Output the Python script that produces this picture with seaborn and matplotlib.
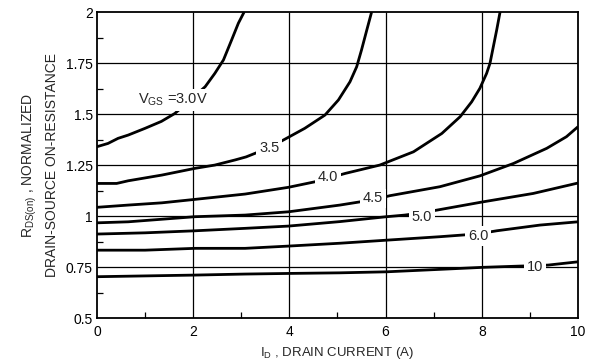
import numpy as np
import pandas as pd
import matplotlib
matplotlib.use("Agg")
import matplotlib.pyplot as plt
import seaborn as sns
from matplotlib.ticker import FixedLocator, FixedFormatter

sns.set_theme(style="white")
plt.rcParams['font.family'] = ['Liberation Sans', 'DejaVu Sans']
plt.rcParams['mathtext.default'] = 'regular'

# Data
vgs_30_x = [0.0, 0.23, 0.44, 0.65, 1.0, 1.34, 1.62, 1.9, 2.25, 2.45, 2.63, 2.80, 2.94, 3.06]
vgs_30_y = [1.340, 1.356, 1.381, 1.397, 1.430, 1.464, 1.503, 1.56, 1.634, 1.699, 1.765, 1.863, 1.945, 2.0]
vgs_35_x = [0.0, 0.41, 0.65, 1.35, 2.04, 2.45, 2.87, 3.1, 3.58, 3.94, 4.32, 4.74, 5.02, 5.26, 5.40, 5.50, 5.61, 5.71]
vgs_35_y = [1.160, 1.160, 1.173, 1.201, 1.234, 1.250, 1.275, 1.29, 1.335, 1.381, 1.430, 1.495, 1.569, 1.658, 1.732, 1.814, 1.912, 2.0]
vgs_40_x = [0.0, 0.65, 1.35, 2.04, 3.08, 3.98, 4.53, 4.8, 5.16, 5.88, 6.58, 7.17, 7.55, 7.79, 7.96, 8.10, 8.17, 8.24, 8.31, 8.38]
vgs_40_y = [1.043, 1.054, 1.065, 1.082, 1.108, 1.141, 1.168, 1.185, 1.209, 1.250, 1.315, 1.405, 1.487, 1.560, 1.626, 1.699, 1.748, 1.830, 1.912, 2.0]
vgs_45_x = [0.0, 0.65, 2.04, 3.08, 3.98, 5.05, 5.74, 6.09, 7.13, 7.96, 8.66, 9.35, 9.76, 10.0]
vgs_45_y = [0.967, 0.972, 0.997, 1.005, 1.021, 1.054, 1.08, 1.100, 1.144, 1.197, 1.258, 1.332, 1.389, 1.438]
vgs_50_x = [0.0, 1.0, 2.04, 3.08, 3.98, 5.05, 6.02, 6.40, 6.75, 7.06, 8.03, 9.07, 10.0]
vgs_50_y = [0.912, 0.918, 0.928, 0.940, 0.951, 0.973, 0.997, 1.005, 1.016, 1.029, 1.070, 1.111, 1.162]
vgs_60_x = [0.0, 1.0, 2.04, 3.08, 3.98, 5.05, 6.02, 7.13, 7.93, 8.31, 9.21, 10.0]
vgs_60_y = [0.833, 0.833, 0.842, 0.842, 0.853, 0.867, 0.882, 0.899, 0.913, 0.928, 0.956, 0.972]
vgs_10_x = [0.0, 2.04, 3.08, 3.98, 5.05, 6.02, 7.13, 8.03, 8.79, 9.1, 9.38, 10.0]
vgs_10_y = [0.703, 0.711, 0.716, 0.719, 0.722, 0.727, 0.739, 0.749, 0.755, 0.757, 0.760, 0.776]

curve_names = ["3.0", "3.5", "4.0", "4.5", "5.0", "6.0", "10"]
curve_x = [vgs_30_x, vgs_35_x, vgs_40_x, vgs_45_x, vgs_50_x, vgs_60_x, vgs_10_x]
curve_y = [vgs_30_y, vgs_35_y, vgs_40_y, vgs_45_y, vgs_50_y, vgs_60_y, vgs_10_y]

label_texts = [r"V$_{GS}$ =3.0V", "3.5", "4.0", "4.5", "5.0", "6.0", "10"]
label_x = [1.57, 3.58, 4.8, 5.74, 6.75, 7.93, 9.1]
label_y = [1.569, 1.332, 1.19, 1.087, 0.997, 0.902, 0.752]

x_ticks = [0, 2, 4, 6, 8, 10]
x_ticklabels = ["0", "2", "4", "6", "8", "10"]
y_ticks = [0.5, 0.75, 1.0, 1.25, 1.5, 1.75, 2.0]
y_ticklabels = ["0.5", "0.75", "1", "1.25", "1.5", "1.75", "2"]

rows = []
for name, xs, ys in zip(curve_names, curve_x, curve_y):
    for xv, yv in zip(xs, ys):
        rows.append({"vgs": name, "id": xv, "r": yv})
df = pd.DataFrame(rows)

fig = plt.figure(figsize=(5.91, 3.64), dpi=100)
ax = fig.add_axes([0.164, 0.126, 0.814, 0.841])

# grid
for xv in x_ticks[1:-1]:
    ax.axvline(xv, color="black", lw=0.9, zorder=1)
for yv in y_ticks[1:-1]:
    ax.axhline(yv, color="black", lw=0.9, zorder=1)

sns.lineplot(data=df, x="id", y="r", hue="vgs", palette=["black"] * len(curve_names),
             sort=False, estimator=None, legend=False, lw=2.0, ax=ax, zorder=3)
for ln in ax.lines:
    ln.set_solid_joinstyle("round")
    ln.set_solid_capstyle("butt")

for t, xv, yv in zip(label_texts, label_x, label_y):
    ax.text(xv, yv, t, fontsize=10.5, ha="center", va="center", zorder=5,
            bbox=dict(facecolor="white", edgecolor="none", pad=2.0))

ax.set_xlim(0, 10)
ax.set_ylim(0.5, 2.0)
ax.xaxis.set_major_locator(FixedLocator(x_ticks))
ax.xaxis.set_major_formatter(FixedFormatter(x_ticklabels))
ax.yaxis.set_major_locator(FixedLocator(y_ticks))
ax.yaxis.set_major_formatter(FixedFormatter(y_ticklabels))
ax.xaxis.set_minor_locator(FixedLocator([1, 3, 5, 7, 9]))
ax.yaxis.set_minor_locator(FixedLocator([0.625, 0.875, 1.125, 1.375, 1.625, 1.875]))
ax.tick_params(axis="both", which="major", length=0, labelsize=10, colors="black", pad=3)
ax.tick_params(axis="x", which="major", pad=5)
ax.tick_params(axis="both", which="minor", direction="in", length=4, width=0.9, color="black",
               bottom=True, left=True, top=False, right=False)
ax.grid(False)
for s in ax.spines.values():
    s.set_color("black")
    s.set_linewidth(1.3)

ax.set_xlabel(r"I$_D$ , DRAIN CURRENT (A)", fontsize=9.5, labelpad=4)
ax.set_ylabel("R$_{DS(on)}$ , NORMALIZED\nDRAIN-SOURCE ON-RESISTANCE", fontsize=10, labelpad=5,
              linespacing=1.55)

fig.savefig("out.png", dpi=100)
